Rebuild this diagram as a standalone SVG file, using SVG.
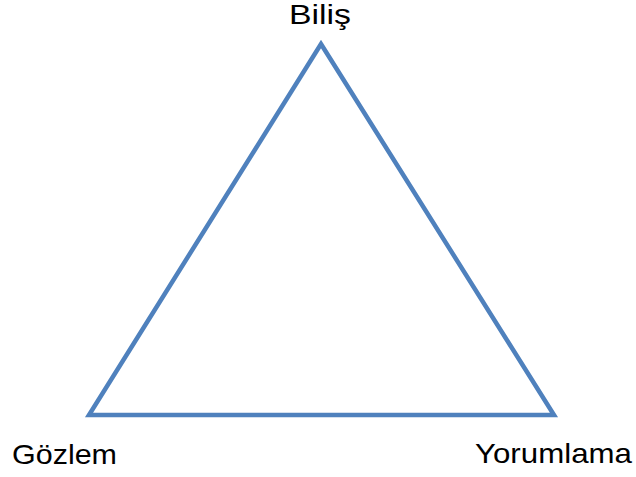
<svg xmlns="http://www.w3.org/2000/svg" width="636" height="477" viewBox="0 0 636 477">
<style>
.lbl{font-family:"Liberation Sans",Arial,sans-serif;font-size:28px;fill:#000}
.edge{fill:none;stroke:#4F81BD;stroke-width:4.5;stroke-linejoin:miter}
</style>
<rect width="636" height="477" fill="#fff"/>
<g id="connectors">
<polygon class="edge" points="321,44 554,415 89,415"/>
</g>
<g id="bilis"><text class="lbl" x="289" y="24" textLength="62" lengthAdjust="spacingAndGlyphs">Biliş</text></g>
<g id="gozlem"><text class="lbl" x="12" y="464" textLength="105" lengthAdjust="spacingAndGlyphs">Gözlem</text></g>
<g id="yorumlama"><text class="lbl" x="475" y="463" textLength="157" lengthAdjust="spacingAndGlyphs">Yorumlama</text></g>
</svg>
